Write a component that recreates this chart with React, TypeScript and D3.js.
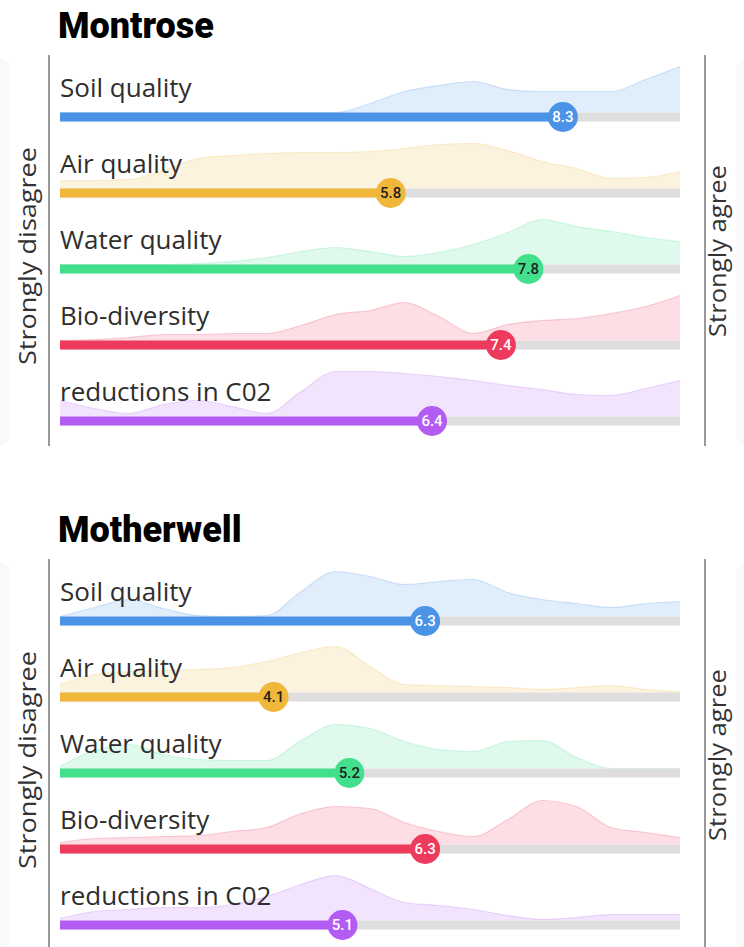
import React from "react";
import * as d3 from "d3";

const regions = ["Montrose", "Motherwell"];
const categories = ["Soil quality", "Air quality", "Water quality", "Bio-diversity", "reductions in C02"];
const colors = ["#4a93e6", "#f0b73a", "#42e08c", "#ee3a5c", "#b35cf2"];
const valueTextColors = ["#ffffff", "#1f1f1f", "#1f1f1f", "#ffffff", "#ffffff"];
const montroseScores = [8.3, 5.8, 7.8, 7.4, 6.4];
const motherwellScores = [6.3, 4.1, 5.2, 6.3, 5.1];
const densityGrid = [1, 1.5, 2, 2.5, 3, 3.5, 4, 4.5, 5, 5.5, 6, 6.5, 7, 7.5, 8, 8.5, 9, 9.5, 10];

const montroseSoil = [0, 0, 0, 0, 0, 0, 0, 0, 0, 9, 21, 27, 31, 23, 21, 21, 21, 33, 46];
const montroseAir = [8, 8, 9, 18, 30, 33, 35, 36, 36, 37, 40, 44, 45, 38, 27, 20, 10, 11, 17];
const montroseWater = [0, 0, 0, 0, 1, 3, 7, 13, 17, 13, 8, 12, 20, 32, 45, 38, 33, 27, 23];
const montroseBio = [0, 1, 3, 6, 6, 7, 7, 15, 26, 30, 38, 24, 7, 16, 20, 22, 27, 34, 45];
const montroseCO2 = [16, 8, 3, 12, 16, 10, 3, 25, 45, 45, 43, 40, 36, 31, 27, 22, 21, 28, 36];

const motherwellSoil = [0, 9, 17, 8, 1, 0, 1, 25, 45, 40, 32, 35, 37, 24, 17, 13, 9, 13, 15];
const motherwellAir = [8, 18, 21, 22, 23, 25, 31, 40, 46, 26, 8, 7, 6, 5, 3, 5, 7, 3, 1];
const motherwellWater = [2, 18, 24, 14, 9, 8, 8, 28, 44, 40, 27, 19, 17, 27, 28, 11, 0, 0, 0];
const motherwellBio = [2, 6, 7, 8, 9, 13, 17, 31, 38, 36, 22, 13, 8, 25, 44, 38, 17, 12, 7];
const motherwellCO2 = [2, 9, 11, 13, 13, 16, 24, 36, 45, 32, 18, 15, 11, 5, 1, 3, 6, 6, 6];

const scoresByRegion = [montroseScores, motherwellScores];
const densitiesByRegion = [
  [montroseSoil, montroseAir, montroseWater, montroseBio, montroseCO2],
  [motherwellSoil, motherwellAir, motherwellWater, motherwellBio, motherwellCO2],
];

const W = 744;
const H = 947;
const PANEL_H = 504;
const ROW_H = 76;
const BAR_Y0 = 117; // bar centre of the first row
const BAR_H = 9;

export default function App() {
  const x = d3.scaleLinear().domain([1, 10]).range([60, 680]);
  const hScale = d3.scaleLinear().domain([0, 46]).range([0, 46]);
  const labelFont = "'Open Sans', 'DejaVu Sans', sans-serif";

  return (
    <svg width={W} height={H} style={{ position: "absolute", left: 0, top: 0, background: "#fff" }}>
      {regions.map((region, p) => {
        const oy = p * PANEL_H;
        return (
          <g key={region} transform={`translate(0,${oy})`}>
            <rect x={-20} y={58} width={30} height={388} rx={12} fill="#f9f9f9" />
            <rect x={736} y={58} width={40} height={388} rx={12} fill="#f9f9f9" />
            <text x={58} y={38} fontFamily="Roboto, sans-serif" fontWeight={900} fontSize={36} fill="#000">
              {region}
            </text>
            <line x1={49} x2={49} y1={55} y2={446} stroke="#555" strokeWidth={1.2} />
            <line x1={705} x2={705} y1={55} y2={446} stroke="#555" strokeWidth={1.2} />
            <text
              transform={`translate(27,256) rotate(-90)`}
              textAnchor="middle"
              dominantBaseline="central"
              fontFamily={labelFont}
              fontWeight={500}
              fontSize={23}
              textLength={218}
              lengthAdjust="spacingAndGlyphs"
              fill="#333"
            >
              Strongly disagree
            </text>
            <text
              transform={`translate(717,251) rotate(-90)`}
              textAnchor="middle"
              dominantBaseline="central"
              fontFamily={labelFont}
              fontWeight={500}
              fontSize={23}
              textLength={172}
              lengthAdjust="spacingAndGlyphs"
              fill="#333"
            >
              Strongly agree
            </text>
            {categories.map((cat, i) => {
              const cy = BAR_Y0 + i * ROW_H;
              const base = cy - BAR_H / 2;
              const dens = densitiesByRegion[p][i];
              const area = d3
                .area<number>()
                .x((_, k) => x(densityGrid[k]))
                .y0(base)
                .y1((d) => base - hScale(d))
                .curve(d3.curveMonotoneX);
              const line = d3
                .line<number>()
                .x((_, k) => x(densityGrid[k]))
                .y((d) => base - hScale(d))
                .curve(d3.curveMonotoneX);
              const v = scoresByRegion[p][i];
              return (
                <g key={cat}>
                  <path d={area(dens) || ""} fill={colors[i]} fillOpacity={0.17} />
                  <path d={line(dens) || ""} fill="none" stroke={colors[i]} strokeOpacity={0.22} strokeWidth={1.2} />
                  <text x={60} y={cy - 20} fontFamily={labelFont} fontWeight={500} fontSize={26} fill="#2e2e2e">
                    {cat}
                  </text>
                  <rect x={x(1)} y={base} width={x(10) - x(1)} height={BAR_H} fill="#dedede" />
                  <rect x={x(1)} y={base} width={x(v) - x(1)} height={BAR_H} fill={colors[i]} />
                  <circle cx={x(v)} cy={cy} r={15} fill={colors[i]} />
                  <text
                    x={x(v)}
                    y={cy}
                    textAnchor="middle"
                    dominantBaseline="central"
                    fontFamily="Roboto, sans-serif"
                    fontWeight={500}
                    fontSize={15}
                    fill={valueTextColors[i]}
                  >
                    {v.toFixed(1)}
                  </text>
                </g>
              );
            })}
          </g>
        );
      })}
    </svg>
  );
}
